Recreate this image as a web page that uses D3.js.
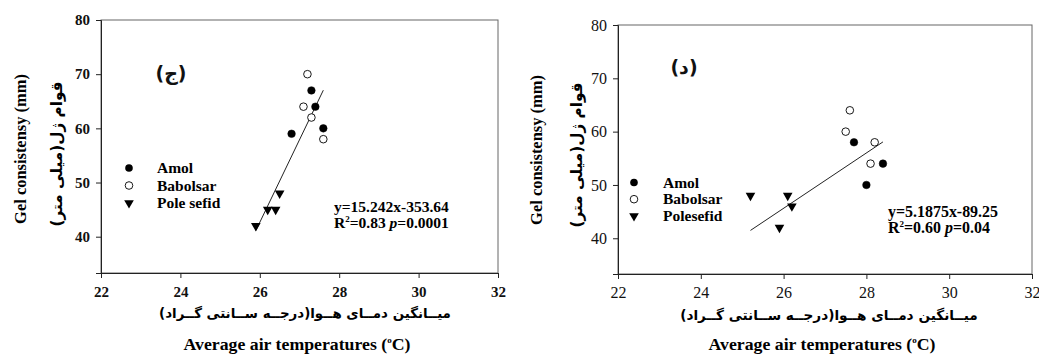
<!DOCTYPE html>
<html><head><meta charset="utf-8">
<script src="https://cdn.jsdelivr.net/npm/d3@7"></script>
<style>
body{margin:0;background:#fff;}
svg{display:block;}
</style></head>
<body><svg id="c" width="1039" height="354"></svg>
<script>
// ---- data ----
const xTicks = [22, 24, 26, 28, 30, 32];
const yTicks = [40, 50, 60, 70, 80];
// Panel ج (left)
const amolL = [[27.3, 67], [27.4, 64], [27.6, 60], [26.8, 59]];
const babolsarL = [[27.2, 70], [27.1, 64], [27.3, 62], [27.6, 58]];
const poleSefidL = [[25.9, 42], [26.2, 45], [26.4, 45], [26.5, 48]];
const fitL = [15.242, -353.64];
const fitRangeL = [25.9, 27.6];
const legendL = ["Amol", "Babolsar", "Pole sefid"];
const eqL = ["y=15.242x-353.64", "0.83", "0.0001"];
// Panel د (right)
const amolR = [[27.7, 58], [28.4, 54], [28.0, 50]];
const babolsarR = [[27.6, 64], [27.5, 60], [28.2, 58], [28.1, 54]];
const poleSefidR = [[25.2, 48], [26.1, 48], [26.2, 46], [25.9, 42]];
const fitR = [5.1875, -89.25];
const fitRangeR = [25.2, 28.4];
const legendR = ["Amol", "Babolsar", "Polesefid"];
const eqR = ["y=5.1875x-89.25", "0.60", "0.04"];

const yTitle = "Gel consistensy (mm)";
const yTitleFa = "قوام ژل(میلی متر)";
const xTitle = "Average air temperatures (";
const xTitleFa = "میــانگین دمــای هــوا(درجــه ســانتی گــراد)";

const svg = d3.select("#c");
const serif = "'Liberation Serif','Times New Roman',serif";
const arab = "'DejaVu Sans',sans-serif";

function fit(sel, target) {
  const w = sel.node().getComputedTextLength();
  const fs = +sel.attr("font-size");
  sel.attr("font-size", (fs * target / w).toFixed(2));
  return sel;
}

function panel(o) {
  const g = svg.append("g");
  const x = d3.scaleLinear().domain([22, 32]).range([o.x0, o.x1]);
  const y = d3.scaleLinear().domain([33.3, 80]).range([o.y1, o.y0]);
  // frame
  g.append("rect").attr("x", o.x0).attr("y", o.y0).attr("width", o.x1 - o.x0).attr("height", o.y1 - o.y0)
    .attr("fill", "none").attr("stroke", "#666").attr("stroke-width", 1);
  // axes
  const ax = g.append("g").attr("transform", `translate(0,${o.y1})`)
    .call(d3.axisBottom(x).tickValues(xTicks).tickSize(5).tickPadding(8).tickFormat(d3.format("d")));
  const ay = g.append("g").attr("transform", `translate(${o.x0},0)`)
    .call(d3.axisLeft(y).tickValues(yTicks).tickSize(5).tickPadding(6).tickFormat(d3.format("d")));
  [ax, ay].forEach(a => {
    a.select(".domain").attr("stroke", "#222");
    a.selectAll(".tick line").attr("stroke", "#222");
    a.selectAll("text").attr("font-family", serif).attr("font-size", o.tickFs)
      .attr("font-weight", o.tickBold ? "bold" : "normal").attr("fill", "#111");
  });
  // fit line
  const f = o.fit, r = o.fitRange;
  g.append("line").attr("x1", x(r[0])).attr("y1", y(f[0] * r[0] + f[1]))
    .attr("x2", x(r[1])).attr("y2", y(f[0] * r[1] + f[1])).attr("stroke", "#222").attr("stroke-width", 1);
  // points
  const circ = (data, fill) => g.selectAll(null).data(data).enter().append("circle")
    .attr("cx", d => x(d[0])).attr("cy", d => y(d[1])).attr("r", 3.8)
    .attr("fill", fill).attr("stroke", "#000").attr("stroke-width", fill === "#fff" ? 0.9 : 0.5);
  circ(o.amol, "#000");
  circ(o.babolsar, "#fff");
  const tri = d3.symbol().type(d3.symbolTriangle).size(40);
  g.selectAll(null).data(o.pole).enter().append("path")
    .attr("d", tri).attr("transform", d => `translate(${x(d[0])},${y(d[1])}) rotate(180)`).attr("fill", "#000");
  // legend
  const lg = g.append("g");
  o.legend.forEach((t, i) => {
    const ly = o.legY + i * o.legDy;
    if (i === 0) lg.append("circle").attr("cx", o.legSx).attr("cy", ly).attr("r", 3.8).attr("fill", "#000");
    else if (i === 1) lg.append("circle").attr("cx", o.legSx).attr("cy", ly).attr("r", 3.8).attr("fill", "#fff").attr("stroke", "#000").attr("stroke-width", 0.9);
    else lg.append("path").attr("d", tri).attr("transform", `translate(${o.legSx},${ly}) rotate(180)`).attr("fill", "#000");
    lg.append("text").attr("x", o.legTx).attr("y", ly + 5).text(t)
      .attr("font-family", serif).attr("font-size", 15.5).attr("font-weight", "bold");
  });
  // equation
  const t1 = g.append("text").attr("x", o.eqX).attr("y", o.eqY + 5).text(o.eq[0])
    .attr("font-family", serif).attr("font-size", 14).attr("font-weight", "bold");
  fit(t1, o.eqW);
  const efs = +t1.attr("font-size");
  const t2 = g.append("text").attr("x", o.eqX).attr("y", o.eqY + 21)
    .attr("font-family", serif).attr("font-size", efs).attr("font-weight", "bold");
  t2.append("tspan").text("R");
  t2.append("tspan").text("2").attr("font-size", 9).attr("dy", -6);
  t2.append("tspan").text("=" + o.eq[1] + " ").attr("dy", 6);
  t2.append("tspan").text("p").attr("font-style", "italic");
  t2.append("tspan").text("=" + o.eq[2]);
  // panel letter
  g.append("text").attr("x", o.lblX).attr("y", o.lblY).attr("dy", "0.35em").text(o.lbl)
    .attr("font-family", arab).attr("font-size", 19).attr("font-weight", "bold").attr("text-anchor", "middle").attr("fill", "#111");
  // axis titles
  fit(g.append("text").attr("transform", `translate(${o.yTx},${o.yTy}) rotate(-90)`).attr("text-anchor", "middle")
    .attr("dy", "0.35em").text(yTitle).attr("font-family", serif).attr("font-size", 15).attr("font-weight", "bold"), o.yTw);
  fit(g.append("text").attr("transform", `translate(${o.yFx},${o.yFy}) rotate(-90)`).attr("text-anchor", "middle")
    .attr("dy", "0.35em").text(yTitleFa).attr("font-family", arab).attr("font-size", 14).attr("font-weight", "bold").attr("direction", "rtl"), o.yFw);
  fit(g.append("text").attr("x", o.xFx).attr("y", o.xFy).attr("text-anchor", "middle").attr("dy", "0.35em")
    .text(xTitleFa).attr("font-family", arab).attr("font-size", 14).attr("font-weight", "bold").attr("direction", "rtl"), o.xFw);
  const xt = g.append("text").attr("x", o.xTx).attr("y", o.xTy).attr("text-anchor", "middle")
    .attr("font-family", serif).attr("font-size", 17).attr("font-weight", "bold");
  xt.append("tspan").text(xTitle);
  xt.append("tspan").text("o").attr("font-size", 9).attr("dy", -7);
  xt.append("tspan").text("C)").attr("dy", 7);
  fit(xt, o.xTw);
}

panel({x0: 101, x1: 498, y0: 20, y1: 273, tickFs: 15, tickBold: true,
  amol: amolL, babolsar: babolsarL, pole: poleSefidL, fit: fitL, fitRange: fitRangeL,
  legend: legendL, legY: 168, legDy: 17.5, legSx: 129, legTx: 157,
  eq: eqL, eqX: 334, eqY: 207, eqW: 115, lbl: "(ج)", lblX: 171, lblY: 73,
  yTx: 20, yTy: 149, yTw: 150, yFx: 57, yFy: 154, yFw: 145,
  xFx: 305, xFy: 313, xFw: 292, xTx: 297, xTy: 350, xTw: 227});
panel({x0: 618, x1: 1032, y0: 25, y1: 274, tickFs: 16, tickBold: false,
  amol: amolR, babolsar: babolsarR, pole: poleSefidR, fit: fitR, fitRange: fitRangeR,
  legend: legendR, legY: 182.5, legDy: 16.7, legSx: 634, legTx: 663,
  eq: eqR, eqX: 888, eqY: 211.5, eqW: 110, lbl: "(د)", lblX: 684, lblY: 67,
  yTx: 536, yTy: 150, yTw: 150, yFx: 577, yFy: 155, yFw: 145,
  xFx: 829, xFy: 315, xFw: 298, xTx: 822, xTy: 350, xTw: 227});
</script>
</body></html>
